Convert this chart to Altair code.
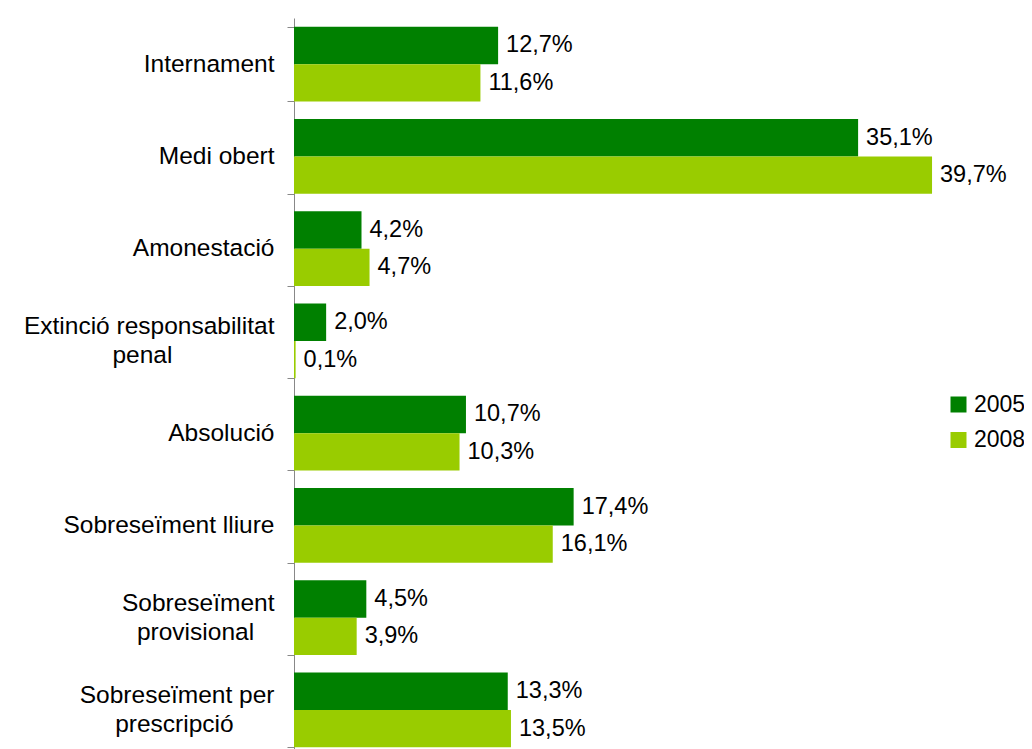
import altair as alt
import pandas as pd

NB = "\u00a0"   # non-breaking space (kept by the renderer)
ZW = "\u200b"   # zero-width char so trailing padding is not trimmed
categories = [
    "Internament",
    "Medi obert",
    "Amonestació",
    "Extinció responsabilitat|penal" + NB * 15 + ZW,
    "Absolució",
    "Sobreseïment lliure",
    "Sobreseïment|provisional" + NB * 3 + ZW,
    "Sobreseïment per|prescripció" + NB * 6 + ZW,
]
years = ["2005", "2008"]
values_2005 = [12.7, 35.1, 4.2, 2.0, 10.7, 17.4, 4.5, 13.3]
values_2008 = [11.6, 39.7, 4.7, 0.1, 10.3, 16.1, 3.9, 13.5]
colors = ["#008000", "#99CC00"]

rows = []
for c, a, b in zip(categories, values_2005, values_2008):
    rows.append({"cat": c, "year": years[0], "value": a})
    rows.append({"cat": c, "year": years[1], "value": b})
df = pd.DataFrame(rows)

FONT = "Liberation Sans"

y_enc = alt.Y(
    "cat:N",
    sort=categories,
    scale=alt.Scale(paddingInner=0.19, paddingOuter=0.095),
    axis=alt.Axis(
        title=None,
        labelExpr="split(datum.label, '|')",
        labelFontSize=24.5,
        labelFont=FONT,
        labelColor="black",
        labelLimit=400,
        labelPadding=13,
        labelLineHeight=29,
        tickSize=7,
        tickColor="#888888",
        domainColor="#888888",
        tickBand="extent",
        grid=False,
        labelAlign="right",
        labelBaseline={
            "condition": {"test": "indexof(datum.label, '|') >= 0", "value": "line-bottom"},
            "value": "middle",
        },
    ),
)
x_enc = alt.X("value:Q", scale=alt.Scale(domain=[0, 42]), axis=None)
yoff = alt.YOffset("year:N", sort=years, scale=alt.Scale(paddingInner=0, paddingOuter=0))

bars = alt.Chart(df).mark_bar().encode(
    y=y_enc,
    x=x_enc,
    yOffset=yoff,
    color=alt.Color(
        "year:N",
        scale=alt.Scale(domain=years, range=colors),
        legend=alt.Legend(
            title=None,
            orient="none",
            legendX=653,
            legendY=375,
            symbolType="square",
            symbolSize=256,
            symbolStrokeWidth=0,
            labelFontSize=23,
            labelFont=FONT,
            labelColor="black",
            labelLimit=200,
            rowPadding=11.5,
            padding=0,
            labelOffset=4,
        ),
    ),
)

labels = alt.Chart(df).transform_calculate(
    label="replace(format(datum.value, '.1f'), '.', ',') + '%'"
).mark_text(
    align="left", baseline="middle", dx=8, fontSize=23.5, font=FONT, color="black"
).encode(
    y=y_enc,
    x=x_enc,
    yOffset=yoff,
    text="label:N",
)

chart = alt.layer(bars, labels).properties(
    width=675,
    height=738,
    autosize=alt.AutoSizeParams(type="none"),
    padding={"left": 286, "top": 10, "right": 55, "bottom": 0},
).configure_view(stroke=None)

chart.save("out.html", embed_options={"renderer": "svg", "actions": False})
